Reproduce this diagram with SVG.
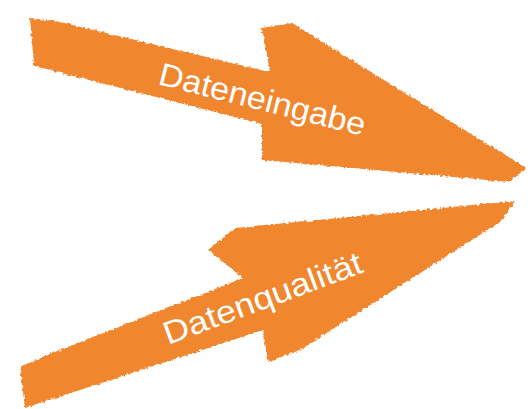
<svg xmlns="http://www.w3.org/2000/svg" width="528" height="409" viewBox="0 0 528 409">
<style>
.arrow{fill:#F0862E;filter:url(#rough)}
.lbl{fill:#ffffff;font-family:"Liberation Sans","DejaVu Sans",sans-serif;font-size:32px}
</style>
<defs>
<filter id="rough" x="-5%" y="-10%" width="110%" height="120%">
<feTurbulence type="fractalNoise" baseFrequency="0.35" numOctaves="2" seed="3" result="n"/>
<feDisplacementMap in="SourceGraphic" in2="n" scale="4" xChannelSelector="R" yChannelSelector="G"/>
</filter>
</defs>
<rect width="528" height="409" fill="#ffffff"/>
<g id="connectors">
<g id="arrow-top">
<polygon class="arrow" points="30,18 60,22 270,72 262,28 292,23 526,168 510,182 262,160 262,124 34,66"/>
<text class="lbl" transform="translate(157,84) rotate(14.2)" textLength="212" lengthAdjust="spacingAndGlyphs">Dateneingabe</text>
</g>
<g id="arrow-bottom">
<polygon class="arrow" points="20,367 50,354 243,278 208,250 235,228 515,201 500,222 300,350 268,362 263,330 25,408"/>
<text class="lbl" transform="translate(168,345) rotate(-20.4)" textLength="210" lengthAdjust="spacingAndGlyphs">Datenqualität</text>
</g>
</g>
</svg>
